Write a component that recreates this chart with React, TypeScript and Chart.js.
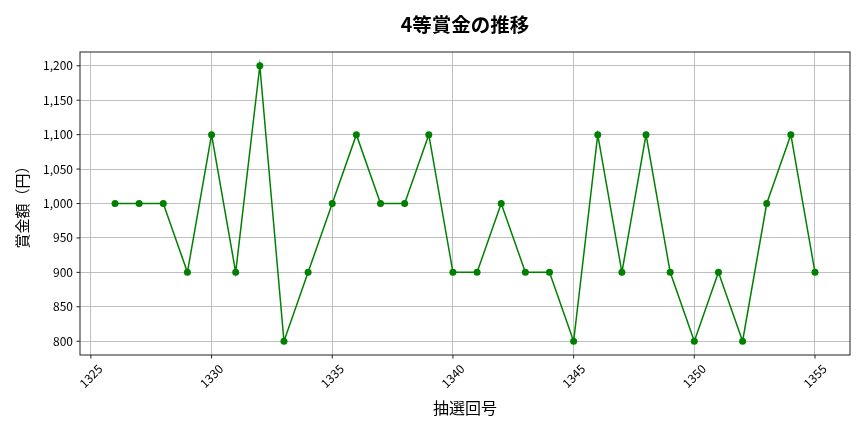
import { useEffect, useRef } from "react";
import { Chart, registerables } from "chart.js";

Chart.register(...registerables);

const draws = [
  1326, 1327, 1328, 1329, 1330, 1331, 1332, 1333, 1334, 1335,
  1336, 1337, 1338, 1339, 1340, 1341, 1342, 1343, 1344, 1345,
  1346, 1347, 1348, 1349, 1350, 1351, 1352, 1353, 1354, 1355,
];
const prizes = [
  1000, 1000, 1000, 900, 1100, 900, 1200, 800, 900, 1000,
  1100, 1000, 1000, 1100, 900, 900, 1000, 900, 900, 800,
  1100, 900, 1100, 900, 800, 900, 800, 1000, 1100, 900,
];
const xTicks = [1325, 1330, 1335, 1340, 1345, 1350, 1355];
const yTicks = [800, 850, 900, 950, 1000, 1050, 1100, 1150, 1200];
const title = "4等賞金の推移";
const xLabel = "抽選回号";
const yLabel = "賞金額（円）";

const FONT = '"Noto Sans CJK JP", "Noto Sans", sans-serif';
const LINE = "#008000";

const axesPlugin = {
  id: "mplAxes",
  afterDraw(chart: Chart) {
    const { ctx, chartArea: a, scales } = chart;
    ctx.save();

    // spines
    ctx.strokeStyle = "#222222";
    ctx.lineWidth = 1;
    ctx.strokeRect(a.left, a.top, a.right - a.left, a.bottom - a.top);

    ctx.fillStyle = "#000000";
    ctx.font = `12px ${FONT}`;

    // x ticks
    xTicks.forEach((v) => {
      const px = scales.x.getPixelForValue(v);
      ctx.beginPath();
      ctx.moveTo(px, a.bottom);
      ctx.lineTo(px, a.bottom + 3.5);
      ctx.stroke();
      ctx.save();
      ctx.translate(px, a.bottom + 21);
      ctx.rotate(-Math.PI / 4);
      ctx.textAlign = "center";
      ctx.textBaseline = "middle";
      ctx.fillText(String(v), 0, 0);
      ctx.restore();
    });

    // y ticks
    yTicks.forEach((v) => {
      const py = scales.y.getPixelForValue(v);
      ctx.beginPath();
      ctx.moveTo(a.left, py);
      ctx.lineTo(a.left - 3.5, py);
      ctx.stroke();
      ctx.textAlign = "right";
      ctx.textBaseline = "middle";
      ctx.fillText(v.toLocaleString("en-US"), a.left - 7, py);
    });

    // axis labels
    ctx.font = `16px ${FONT}`;
    ctx.textAlign = "center";
    ctx.textBaseline = "middle";
    ctx.fillText(xLabel, (a.left + a.right) / 2, 408);
    ctx.font = `15px ${FONT}`;
    ctx.save();
    ctx.translate(22, (a.top + a.bottom) / 2);
    ctx.rotate(-Math.PI / 2);
    ctx.fillText(yLabel, 0, 0);
    ctx.restore();

    // title
    ctx.font = `bold 19.5px ${FONT}`;
    ctx.fillText(title, (a.left + a.right) / 2, 25);

    ctx.restore();
  },
};

export default function App() {
  const canvasRef = useRef<HTMLCanvasElement>(null);
  const chartRef = useRef<Chart | null>(null);

  useEffect(() => {
    if (!canvasRef.current) return;
    if (chartRef.current) chartRef.current.destroy();

    chartRef.current = new Chart(canvasRef.current, {
      type: "line",
      data: {
        datasets: [{
          data: draws.map((d, i) => ({ x: d, y: prizes[i] })),
          borderColor: LINE,
          backgroundColor: LINE,
          borderWidth: 1.5,
          pointRadius: 3.5,
          pointBorderWidth: 0,
          pointBackgroundColor: LINE,
          tension: 0,
          fill: false,
        }],
      },
      options: {
        responsive: false,
        animation: false,
        devicePixelRatio: 1,
        layout: { padding: { left: 80, right: 14, top: 52, bottom: 77 } },
        plugins: {
          legend: { display: false },
          tooltip: { enabled: false },
          title: { display: false },
        },
        scales: {
          x: {
            type: "linear",
            min: 1324.55,
            max: 1356.45,
            afterBuildTicks: (s: any) => { s.ticks = xTicks.map((v) => ({ value: v })); },
            afterFit: (s: any) => { s.height = 0; },
            ticks: { display: false },
            grid: { color: "#b0b0b0", lineWidth: 0.8, drawTicks: false },
            border: { display: false },
          },
          y: {
            type: "linear",
            min: 780,
            max: 1220,
            afterBuildTicks: (s: any) => { s.ticks = yTicks.map((v) => ({ value: v })); },
            afterFit: (s: any) => { s.width = 0; },
            ticks: { display: false },
            grid: { color: "#b0b0b0", lineWidth: 0.8, drawTicks: false },
            border: { display: false },
          },
        },
      },
      plugins: [axesPlugin],
    });

    return () => {
      if (chartRef.current) {
        chartRef.current.destroy();
        chartRef.current = null;
      }
    };
  }, []);

  return (
    <div style={{ position: "absolute", left: 0, top: 0, width: 864, height: 432, background: "#ffffff" }}>
      <canvas ref={canvasRef} width={864} height={432} style={{ width: 864, height: 432 }} />
    </div>
  );
}
